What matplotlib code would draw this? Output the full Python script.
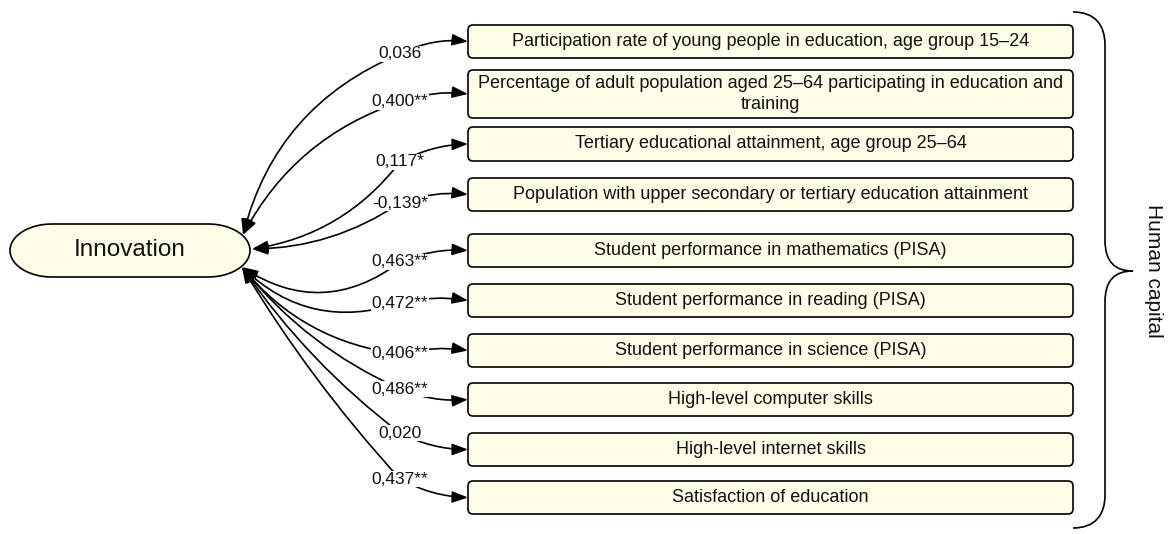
import matplotlib
matplotlib.use('Agg')
import matplotlib.pyplot as plt
from matplotlib.patches import FancyBboxPatch, FancyArrowPatch, PathPatch, Polygon
from matplotlib.path import Path
import numpy as np

plt.rcParams['font.family'] = ['Liberation Sans', 'DejaVu Sans']

# data
indicators = [
    'Participation rate of young people in education, age group 15\u201324',
    'Percentage of adult population aged 25\u201364 participating in education and\ntraining',
    'Tertiary educational attainment, age group 25\u201364',
    'Population with upper secondary or tertiary education attainment',
    'Student performance in mathematics (PISA)',
    'Student performance in reading (PISA)',
    'Student performance in science (PISA)',
    'High-level computer skills',
    'High-level internet skills',
    'Satisfaction of education',
]
coefs = [0.036, 0.400, 0.117, -0.139, 0.463, 0.472, 0.406, 0.486, 0.020, 0.437]
stars = ['', '**', '*', '*', '**', '**', '**', '**', '', '**']
center_label = 'Innovation'
group_label = 'Human capital'

# layout (pixel units)
box_top = [25, 70, 127, 178, 234, 284, 334, 383, 433, 481]
box_bot = [58, 118, 161, 211, 267, 317, 367, 416, 466, 514]
box_x0, box_x1 = 468, 1073
lab_x = 400
lab_y = [54, 102, 162, 203, 262, 303, 354, 389, 433, 479]
anchors = [(243, 235), (252, 249), (242, 267)]
anchor_idx = [0, 0, 1, 1, 2, 2, 2, 2, 2, 2]
rad_left = [0.25, 0.2, -0.2, -0.15, -0.35, -0.3, -0.2, -0.12, -0.08, -0.05]
rad_right = [-0.15, -0.12, -0.12, -0.12, -0.12, -0.1, -0.1, 0.12, 0.12, 0.12]

fill = '#fdfde8'
lw = 1.2

fig = plt.figure(figsize=(11.7, 5.34), dpi=100)
ax = fig.add_axes([0, 0, 1, 1])
ax.set_xlim(0, 1170)
ax.set_ylim(534, 0)
ax.axis('off')

# Innovation shape: rounded with elliptical corners
ex0, ex1, ey0, ey1 = 10, 250, 224, 277
rx, ry = 42, (ey1 - ey0) / 2
pts = []
for cx, cy, a0 in [(ex1 - rx, ey0 + ry, -90), (ex0 + rx, ey0 + ry, 90)]:
    t = np.radians(np.linspace(a0, a0 + 180, 60))
    pts += list(zip(cx + rx * np.cos(t), cy + ry * np.sin(t)))
ax.add_patch(Polygon(pts, closed=True, facecolor=fill, edgecolor='black', lw=lw, zorder=2))
ax.text((ex0 + ex1) / 2, (ey0 + ey1) / 2 - 1, center_label, ha='center', va='center',
        fontsize=17.5, color='#111111', zorder=3)

arrow = '-|>,head_length=0.6,head_width=0.22'
for i, name in enumerate(indicators):
    top, bot = box_top[i], box_bot[i]
    cy = (top + bot) / 2
    ax.add_patch(FancyBboxPatch((box_x0, top), box_x1 - box_x0, bot - top,
                                boxstyle='round,pad=0,rounding_size=5',
                                facecolor=fill, edgecolor='black', lw=lw, zorder=2))
    ax.text((box_x0 + box_x1) / 2, cy, name, ha='center', va='center',
            fontsize=13, linespacing=1.3, color='#111111', zorder=3)

    lx, ly = lab_x, lab_y[i]
    a = anchors[anchor_idx[i]]
    ax.add_patch(FancyArrowPatch((lx, ly), a, arrowstyle=arrow, mutation_scale=16,
                                 connectionstyle=f'arc3,rad={rad_left[i]}',
                                 shrinkA=0, shrinkB=0, lw=lw, color='black', zorder=1))
    ax.add_patch(FancyArrowPatch((lx, ly), (box_x0, cy), arrowstyle=arrow, mutation_scale=16,
                                 connectionstyle=f'arc3,rad={rad_right[i]}',
                                 shrinkA=0, shrinkB=0, lw=lw, color='black', zorder=1))
    txt = f'{coefs[i]:.3f}'.replace('.', ',') + stars[i]
    ax.text(lx, ly, txt, ha='center', va='center', fontsize=12.5, color='#111111', zorder=4,
            bbox=dict(facecolor='white', edgecolor='none', pad=0.3))

# curly brace
bx0, bx1, btip = 1073, 1105, 1133
yt, yb, ym = 12, 528, 271
verts = [(bx0, yt), (bx0 + 22, yt), (bx1, yt + 13), (bx1, yt + 33),
         (bx1, ym - 31),
         (bx1, ym - 9), (bx1 + 10, ym), (btip, ym),
         (bx1 + 10, ym), (bx1, ym + 9), (bx1, ym + 31),
         (bx1, yb - 33),
         (bx1, yb - 13), (bx0 + 22, yb), (bx0, yb)]
codes = [Path.MOVETO, Path.CURVE4, Path.CURVE4, Path.CURVE4,
         Path.LINETO,
         Path.CURVE4, Path.CURVE4, Path.CURVE4,
         Path.CURVE4, Path.CURVE4, Path.CURVE4,
         Path.LINETO,
         Path.CURVE4, Path.CURVE4, Path.CURVE4]
ax.add_patch(PathPatch(Path(verts, codes), facecolor='none', edgecolor='black', lw=lw))
ax.text(1153, ym, group_label, rotation=-90, ha='center', va='center', fontsize=15,
        color='#111111')

fig.savefig('out.png', dpi=100, facecolor='white')
